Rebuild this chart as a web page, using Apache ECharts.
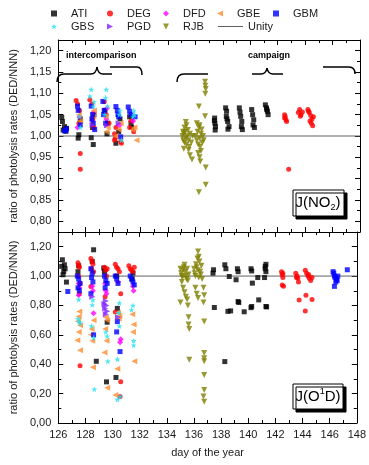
<!DOCTYPE html>
<html><head><meta charset="utf-8">
<script src="https://cdn.jsdelivr.net/npm/echarts@6/dist/echarts.min.js"></script>
<style>html,body{margin:0;padding:0;background:#fff}#c{width:369px;height:465px}</style>
</head><body><div id="c"></div>
<script>
// ---- axis ranges / ticks ----
const DAY_MIN = 126, DAY_MAX = 148;
const NO2_TICKS = [0.80, 0.85, 0.90, 0.95, 1.00, 1.05, 1.10, 1.15, 1.20];
const O1D_TICKS = [0.00, 0.20, 0.40, 0.60, 0.80, 1.00, 1.20];
const UNITY = 1.0;

// ---- J(NO2) ratios [day, ratio] ----
const ATI_NO2 = [[126.25,1.044],[126.3,1.034],[126.45,1.022],[126.35,1.014],[126.55,1.011],[126.6,1.018],
 [127.45,0.995],[127.5,1.003],[127.6,1.04],[128.4,0.996],[128.55,0.980],[128.5,1.02],[128.6,1.05],
 [129.55,1.005],[129.4,1.06],[129.6,1.03],[130.2,0.983],[130.4,1.01],[130.5,1.04],
 [131.3,1.03],[131.2,1.045],[131.35,1.02],
 [137.4,1.042],[137.42,1.030],[137.46,1.022],[137.44,1.014],[137.38,1.036],
 [138.2,1.066],[138.27,1.058],[138.25,1.046],[138.35,1.034],[138.45,1.022],[138.37,1.016],[138.3,1.04],
 [139.2,1.066],[139.25,1.056],[139.3,1.046],[139.38,1.034],[139.35,1.022],[139.42,1.015],
 [140.1,1.062],[140.17,1.05],[140.25,1.038],[140.2,1.026],[140.3,1.02],
 [141.1,1.073],[141.18,1.066],[141.25,1.058],[141.3,1.05],[141.2,1.062]];
const DEG_NO2 = [[127.3,1.083],[127.4,1.075],[127.55,1.06],[127.6,0.959],[127.6,0.922],[127.5,1.03],
 [128.3,1.085],[128.5,1.04],[128.6,1.02],[128.45,1.075],
 [129.35,1.08],[129.5,1.05],[129.7,1.03],
 [130.1,1.005],[130.15,0.995],[130.1,0.99],[130.6,0.983],[130.55,0.987],[130.2,1.02],
 [131.2,1.02],[131.3,1.035],[131.5,1.01],
 [142.5,1.05],[142.55,1.045],[142.6,1.038],[142.65,1.034],[142.5,1.042],[142.8,0.922],
 [143.5,1.055],[143.6,1.062],[143.7,1.05],[143.8,1.056],[143.65,1.046],
 [144.2,1.062],[144.3,1.055],[144.4,1.048],[144.5,1.04],[144.45,1.03],[144.55,1.024],[144.35,1.035],[144.25,1.058],[144.6,1.045]];
const DFD_NO2 = [[127.55,1.045],[127.4,1.02],[128.5,1.035],[128.55,1.055],[129.5,1.04],[129.55,1.065],[130.45,1.025],[131.45,1.035]];
const GBE_NO2 = [[127.5,1.05],[127.6,1.035],[128.55,1.045],[128.45,1.03],[128.6,1.06],[129.45,1.045],[129.6,1.02],
 [129.5,1.01],[130.4,1.015],[130.55,1.03],[130.2,1.0],[131.4,1.015],[131.55,1.02],[131.7,0.99]];
const GBM_NO2 = [[126.45,1.012],[126.55,1.013],[126.6,1.017],[127.4,1.07],[127.45,1.06],[127.6,1.026],
 [128.4,1.07],[128.5,1.05],[128.55,1.03],[128.45,1.04],[128.65,1.015],
 [129.25,1.081],[129.35,1.06],[129.45,1.03],[129.3,1.05],
 [130.2,1.069],[130.3,1.06],[130.35,1.05],[130.4,1.045],[130.55,0.998],
 [131.1,1.068],[131.2,1.058],[131.3,1.05],[131.6,1.045]];
const GBS_NO2 = [[127.55,1.046],[127.6,1.02],[128.4,1.109],[128.3,1.093],[128.55,1.07],[128.6,1.08],
 [129.5,1.109],[129.45,1.09],[129.6,1.07],[129.4,1.05],[130.5,1.06],[130.45,1.05],[130.6,0.99],
 [131.5,1.06],[131.55,1.05],[131.45,1.046]];
const PGD_NO2 = [[128.5,1.025],[129.55,1.025],[130.4,1.03]];
const RJB_NO2 = [[135.05,1.0],[135.1,0.99],[135.15,1.005],[135.2,0.985],[135.25,1.01],[135.3,0.995],
 [135.35,0.98],[135.4,1.0],[135.45,1.014],[135.5,0.99],[135.55,0.975],[135.6,1.005],[135.2,1.02],
 [135.3,1.033],[135.5,0.967],[135.6,0.955],[135.75,0.945],[135.15,0.97],[135.7,0.985],[135.8,1.0],
 [135.35,1.025],[135.1,1.01],
 [136.0,1.0],[136.1,0.99],[136.15,1.01],[136.2,0.98],[136.25,1.02],[136.3,0.995],[136.35,0.975],
 [136.4,1.005],[136.45,1.015],[136.5,0.985],[136.55,1.0],[136.3,1.025],[136.6,0.99],[136.2,0.96],
 [136.3,0.95],[136.35,0.94],[136.4,0.965],[136.7,1.127],[136.72,1.118],[136.75,1.11],[136.72,1.099],
 [136.25,1.069],[136.7,1.046],[136.25,0.868],[136.75,0.886],[136.75,0.926],[136.1,1.03]];

// ---- J(O1D) ratios [day, ratio] ----
const ATI_O1D = [[126.3,1.111],[126.45,1.077],[126.25,1.066],[126.4,1.032],[126.35,1.009],[126.6,0.959],[126.5,1.05],
 [127.5,1.07],[127.45,1.03],[128.6,1.179],[128.5,1.1],[128.8,0.42],
 [129.35,1.055],[129.6,0.686],[129.55,0.28],[129.4,1.03],[130.3,1.0],[130.35,0.78],[130.25,0.31],
 [131.45,0.98],[131.5,1.02],
 [137.44,1.043],[137.5,0.786],[137.4,1.02],[138.27,1.077],[138.35,1.05],[138.6,0.997],[138.7,0.763],
 [138.5,0.76],[138.27,0.418],[139.2,1.05],[139.25,1.03],[139.1,0.975],[139.25,0.827],[139.3,0.82],
 [139.7,0.757],[140.2,1.05],[140.25,1.035],[140.3,0.952],[140.25,0.793],[140.2,0.785],[140.77,0.838],
 [140.7,0.99],[141.25,1.05],[141.3,0.793],[141.35,0.79],[141.25,1.066],[141.3,1.08],[141.2,0.99],[141.3,1.03]];
const DEG_O1D = [[127.45,1.09],[127.5,1.07],[127.55,1.06],[127.5,1.0],[127.6,0.95],[127.55,0.88],[127.6,0.39],
 [128.4,1.12],[128.5,1.1],[128.55,1.08],[128.45,1.05],[128.6,1.03],[128.4,0.929],
 [129.4,1.06],[129.5,1.04],[129.6,1.05],[129.45,0.86],[129.55,1.0],
 [130.2,1.08],[130.3,1.06],[130.4,1.05],[130.5,1.03],[130.6,0.88],[130.2,0.755],[130.6,0.28],[130.55,0.18],
 [131.2,1.07],[131.3,1.05],[131.4,1.04],[131.5,1.03],[131.6,1.06],
 [142.45,1.03],[142.5,1.01],[142.55,0.99],[142.5,0.94],[142.6,0.93],[142.55,1.02],
 [143.5,1.02],[143.6,1.0],[143.65,0.985],[143.7,0.96],[143.75,0.838],[143.55,0.99],
 [144.2,1.04],[144.3,1.02],[144.4,1.0],[144.5,0.985],[144.6,0.97],[144.7,0.99],[144.25,0.87],[144.7,0.84],[144.2,0.763],[144.45,1.01]];
const DFD_O1D = [[127.5,0.95],[127.55,0.92],[127.5,0.87],[128.5,0.93],[128.55,0.9],[128.6,0.747],
 [129.45,0.95],[129.5,0.9],[129.55,0.88],[130.55,0.55],[130.6,0.57],[130.4,0.96],[131.5,0.93],[131.55,0.9]];
const GBE_O1D = [[127.55,0.759],[127.5,0.725],[127.45,0.69],[127.6,0.666],[127.5,0.62],[127.4,0.563],[127.6,0.495],
 [128.6,0.70],[128.4,0.60],[128.5,0.56],[128.55,0.38],[128.45,0.64],
 [129.5,0.72],[129.6,0.70],[129.45,0.64],[129.55,0.56],[129.4,0.48],[129.6,0.24],
 [130.4,0.75],[130.45,0.71],[130.35,0.37],[130.2,0.19],[130.5,0.73],
 [131.45,0.74],[131.55,0.67],[131.5,0.62],[131.6,0.42]];
const GBM_O1D = [[126.7,0.895],[127.4,1.0],[127.5,0.98],[127.6,0.95],[127.45,0.92],[127.55,0.9],
 [128.4,1.05],[128.5,1.02],[128.45,0.99],[128.55,0.96],[128.4,0.88],[128.6,0.6],
 [129.4,1.0],[129.5,0.97],[129.6,0.95],[129.45,0.92],
 [130.2,1.0],[130.3,0.98],[130.4,0.95],[130.35,0.69],[130.3,0.62],[130.55,0.486],
 [131.3,1.0],[131.4,0.98],[131.5,0.96],[131.6,0.94],
 [146.25,1.03],[146.3,1.02],[146.35,1.0],[146.4,0.99],[146.5,0.98],[146.45,0.96],[146.55,0.97],[146.35,0.93],[146.6,1.0],[147.3,1.043]];
const GBS_O1D = [[127.5,0.84],[127.45,0.71],[127.55,0.69],[127.6,0.68],
 [128.55,0.838],[128.5,0.804],[128.45,0.66],[128.6,0.58],[128.65,0.23],
 [129.6,0.59],[129.65,0.42],[129.5,0.62],
 [130.5,0.817],[130.5,0.66],[130.35,0.434],[130.35,0.16],[130.55,0.18],[130.45,0.75],
 [131.5,0.80],[131.55,0.56],[131.55,0.53],[131.4,0.77]];
const PGD_O1D = [[128.5,0.86],[129.4,0.81],[129.5,0.83],[129.55,0.80],[129.45,0.78],[129.6,0.76],[129.5,0.74],[130.4,0.72]];
const RJB_O1D = [[135.0,1.05],[135.05,1.02],[135.1,1.0],[135.15,0.99],[135.2,1.04],[135.25,1.06],[135.3,1.077],
 [135.35,1.03],[135.4,1.0],[135.45,0.98],[135.5,1.05],[135.55,0.97],[135.6,1.01],[135.1,0.96],[135.2,0.92],
 [135.3,0.89],[135.4,0.86],[135.0,0.82],[135.5,0.84],[135.55,0.80],[135.6,0.72],[135.6,0.67],[135.65,0.64],[135.65,0.43],
 [136.0,1.05],[136.05,1.02],[136.1,1.0],[136.15,1.08],[136.2,1.06],[136.25,1.12],[136.3,1.04],[136.35,0.99],
 [136.4,1.1],[136.45,1.03],[136.5,1.01],[136.55,1.07],[136.3,1.168],[136.35,1.132],[136.1,0.92],[136.2,0.88],
 [136.3,0.85],[136.7,0.92],[136.75,0.87],[136.7,0.82],[136.75,0.69],[136.75,0.477],[136.75,0.44],[136.75,0.42],
 [136.75,0.327],[136.75,0.225],[136.7,0.18],[136.75,0.145],[136.6,0.98]];

// ---- series styling ----
const STAR = 'path://M0,-10L2.4,-3.1L9.5,-3.1L3.8,1.2L5.9,8.1L0,4L-5.9,8.1L-3.8,1.2L-9.5,-3.1L-2.4,-3.1Z';
const TRI_L = 'path://M0,5L10,0L10,10Z';
const TRI_R = 'path://M10,5L0,0L0,10Z';
const TRI_D = 'path://M0,0L10,0L5,10Z';
const SERIES = [
  {name:'ATI', symbol:'rect', size:5, color:'#000000', no2:ATI_NO2, o1d:ATI_O1D},
  {name:'DEG', symbol:'circle', size:5, color:'#ff0000', no2:DEG_NO2, o1d:DEG_O1D},
  {name:'DFD', symbol:'diamond', size:6, color:'#ff00ff', no2:DFD_NO2, o1d:DFD_O1D},
  {name:'GBE', symbol:TRI_L, size:6, color:'#ff8c2e', no2:GBE_NO2, o1d:GBE_O1D},
  {name:'GBM', symbol:'rect', size:5, color:'#0000ff', no2:GBM_NO2, o1d:GBM_O1D},
  {name:'GBS', symbol:STAR, size:6, color:'#22e0f0', no2:GBS_NO2, o1d:GBS_O1D},
  {name:'PGD', symbol:TRI_R, size:6, color:'#8020ff', no2:PGD_NO2, o1d:PGD_O1D},
  {name:'RJB', symbol:TRI_D, size:6, color:'#808000', no2:RJB_NO2, o1d:RJB_O1D}
];
const UNITY_COLOR = '#606060';

const FONT = 'Liberation Sans, Arial, sans-serif';
const TXT = '#1a1a1a';
const fmt = v => v.toFixed(2).replace('.', ',');

function xAx(grid, pos, labels){
  return {type:'value', gridIndex:grid, position:pos, min:DAY_MIN, max:DAY_MAX, interval:2,
    axisLine:{show:true, onZero:false, lineStyle:{color:'#000', width:1}},
    axisTick:{show:true, inside:true, length:5, lineStyle:{color:'#000'}},
    minorTick:{show:true, splitNumber:2, length:3, lineStyle:{color:'#000'}},
    splitLine:{show:false},
    axisLabel:{show:labels, color:TXT, fontSize:11, fontFamily:FONT, margin:6},
    name: labels ? 'day of the year' : '', nameLocation:'middle', nameGap:24,
    nameTextStyle:{color:TXT, fontSize:11, fontFamily:FONT}};
}
function yAx(grid, pos, min, max, step, ticks, main, major){
  return {type:'value', gridIndex:grid, position:pos, min:min, max:max, interval:step, offset:0,
    axisLine:{show:main, onZero:false, lineStyle:{color:'#000', width:1}},
    axisTick:major ? {show:true, inside:true, length:5, customValues:ticks, lineStyle:{color:'#000'}}
                   : {show:true, inside:true, length:3, lineStyle:{color:'#000'}},
    splitLine:{show:false},
    axisLabel:(main && pos==='left') ? {show:true, customValues:ticks, formatter:v=>fmt(v), color:TXT, fontSize:11, fontFamily:FONT, margin:7}
                                    : {show:false},
    name:(main && pos==='left') ? 'ratio of photolysis rates (DED/NNN)' : '',
    nameLocation:'middle', nameGap:36, nameRotate:90,
    nameTextStyle:{color:TXT, fontSize:11, fontFamily:FONT}};
}

const series = [];
[0,1].forEach(g => {
  SERIES.forEach(s => {
    series.push({type:'scatter', name:s.name, xAxisIndex: g*2, yAxisIndex: g*4,
      data: g===0 ? s.no2 : s.o1d, symbol:s.symbol, symbolSize:s.size,
      itemStyle:{color:s.color}, emphasis:{disabled:true}, z:3});
  });
  series.push({type:'line', name:'Unity', xAxisIndex:g*2, yAxisIndex:g*4,
    data:[[DAY_MIN,UNITY],[DAY_MAX,UNITY]], symbol:'none', showSymbol:false, silent:true,
    lineStyle:{color:UNITY_COLOR, width:1}, itemStyle:{color:UNITY_COLOR}, z:2});
});

const LEG = [
  {n:'ATI', l:51, t:8}, {n:'DEG', l:107, t:8}, {n:'DFD', l:163, t:8}, {n:'GBE', l:217, t:8}, {n:'GBM', l:273, t:8},
  {n:'GBS', l:51, t:21}, {n:'PGD', l:107, t:21}, {n:'RJB', l:163, t:21}
];
const legend = LEG.map(o => ({data:[o.n], left:o.l, top:o.t, padding:0, itemWidth:6, itemHeight:6,
  itemGap:0, selectedMode:false, textStyle:{color:TXT, fontSize:11, fontFamily:FONT, padding:[0,0,0,9]}}));
legend.push({data:[{name:'Unity', icon:'rect'}], left:218, top:21, padding:0, itemWidth:25, itemHeight:1,
  itemGap:0, selectedMode:false, itemStyle:{color:UNITY_COLOR}, textStyle:{color:TXT, fontSize:11, fontFamily:FONT}});

const K = '#000';
const LS = {stroke:K, lineWidth:1.5, fill:null};
function seg(x1,y1,x2,y2){ return {type:'line', shape:{x1,y1,x2,y2}, style:LS, z:10}; }
function crv(x1,y1,cx,cy,x2,y2){ return {type:'bezierCurve', shape:{x1,y1,x2,y2,cpx1:cx,cpy1:cy}, style:LS, z:10}; }
const graphic = [
  {type:'text', left:66, top:51, style:{text:'intercomparison', font:'bold 9px '+FONT, fill:K}},
  {type:'text', left:248, top:51, style:{text:'campaign', font:'bold 9px '+FONT, fill:K}},
  crv(57,82,57,74,64,74), seg(64,74,91,74), crv(91,74,96,74,97,67), crv(97,67,98,74,103,74), seg(103,74,112,74),
  seg(110,67,137,67), crv(137,67,142,67,142,75),
  crv(177,82,177,74,184,74), seg(184,74,208,74),
  seg(252,74,261,74), crv(261,74,266,74,267,68), crv(267,68,268,74,273,74), seg(273,74,283,74),
  seg(323,67,349,67), crv(349,67,355,67,355,74),
  {type:'rect', shape:{x:293, y:190, width:51, height:26}, style:{fill:'#fff', stroke:K, lineWidth:1, shadowColor:'#000', shadowOffsetX:3, shadowOffsetY:3, shadowBlur:0}, z:10},
  {type:'text', x:318, y:203, z:11, style:{text:'{a|J(NO}{s|2}{a|)}', align:'center', verticalAlign:'middle',
     rich:{a:{fontSize:15, fontFamily:FONT, fill:K, lineHeight:18}, s:{fontSize:9, fontFamily:FONT, fill:K, padding:[9,0,0,0], lineHeight:18}}}},
  {type:'rect', shape:{x:293, y:384, width:50, height:25}, style:{fill:'#fff', stroke:K, lineWidth:1, shadowColor:'#000', shadowOffsetX:3, shadowOffsetY:3, shadowBlur:0}, z:10},
  {type:'text', x:318, y:397, z:11, style:{text:'{a|J(O}{s|1}{a|D)}', align:'center', verticalAlign:'middle',
     rich:{a:{fontSize:15, fontFamily:FONT, fill:K, lineHeight:18}, s:{fontSize:9, fontFamily:FONT, fill:K, padding:[0,0,10,0], lineHeight:18}}}}
];

const chart = echarts.init(document.getElementById('c'), null, {renderer:'canvas'});
chart.setOption({
  animation:false, backgroundColor:'#fff',
  grid:[{left:51, right:9, top:40, height:192, containLabel:false},
        {left:51, right:9, top:232, height:191, containLabel:false}],
  legend: legend,
  xAxis:[xAx(0,'bottom',false), xAx(0,'top',false), xAx(1,'bottom',true), xAx(1,'top',false)],
  yAxis:[yAx(0,'left',0.775,1.225,0.025,NO2_TICKS,true,false), yAx(0,'left',0.775,1.225,0.025,NO2_TICKS,false,true),
         yAx(0,'right',0.775,1.225,0.025,NO2_TICKS,true,false), yAx(0,'right',0.775,1.225,0.025,NO2_TICKS,false,true),
         yAx(1,'left',0,1.3,0.1,O1D_TICKS,true,false), yAx(1,'left',0,1.3,0.1,O1D_TICKS,false,true),
         yAx(1,'right',0,1.3,0.1,O1D_TICKS,true,false), yAx(1,'right',0,1.3,0.1,O1D_TICKS,false,true)],
  series: series,
  graphic: graphic
});
</script></body></html>
